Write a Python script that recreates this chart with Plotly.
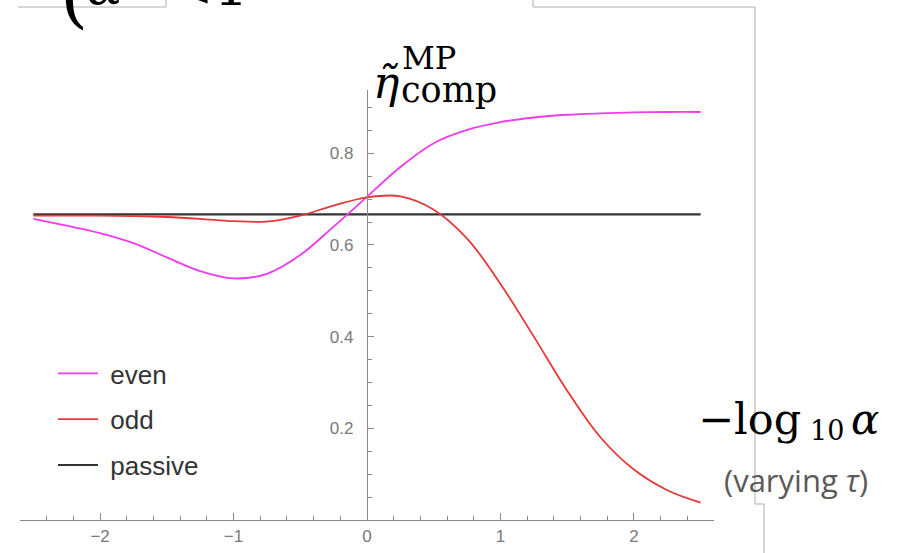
import numpy as np
import plotly.graph_objects as go

# -log10(alpha) sample points
x_vals = [-2.5, -2.25, -2.0, -1.75, -1.5, -1.25, -1.0, -0.75, -0.5, -0.25, 0.0,
          0.25, 0.5, 0.75, 1.0, 1.25, 1.5, 1.75, 2.0, 2.25, 2.5]

# compressed-MP efficiency for each protocol
eta_even = [0.657, 0.642, 0.626, 0.604, 0.573, 0.543, 0.527, 0.537, 0.578, 0.640, 0.705,
            0.770, 0.822, 0.851, 0.868, 0.878, 0.884, 0.887, 0.889, 0.890, 0.890]
eta_odd = [0.664, 0.664, 0.664, 0.663, 0.661, 0.657, 0.652, 0.651, 0.664, 0.686, 0.704,
           0.706, 0.677, 0.614, 0.515, 0.400, 0.282, 0.180, 0.110, 0.065, 0.038]
eta_passive = [2 / 3] * len(x_vals)

series_names = ["even", "odd", "passive"]
x_tick_vals = [-2, -1, 0, 1, 2]
y_tick_vals = [0.2, 0.4, 0.6, 0.8]

W, H = 897, 553
ML, MR, MT, MB = 20, 183, 90, 33
PW, PH = W - ML - MR, H - MT - MB


def px(x):
    return (x - ML) / PW


def py(y):
    return (H - MB - y) / PH


NB = "\u00a0"  # gap between legend line and label

fig = go.Figure()

fig.add_trace(go.Scatter(x=x_vals, y=eta_passive, mode="lines", name=NB + series_names[2],
                         line=dict(color="#333333", width=2.2), legendgroup="c",
                         legendrank=3))
fig.add_trace(go.Scatter(x=x_vals, y=eta_even, mode="lines", name=NB + series_names[0],
                         line=dict(color="#ee3bee", width=1.8, shape="spline", smoothing=1.0),
                         legendgroup="a", legendrank=1))
fig.add_trace(go.Scatter(x=x_vals, y=eta_odd, mode="lines", name=NB + series_names[1],
                         line=dict(color="#e63838", width=1.8, shape="spline", smoothing=1.0),
                         legendgroup="b", legendrank=2))

axis_col = "#8a8a8a"
tick_font = dict(family="Liberation Sans, Arial, sans-serif", size=17, color="#7a7a7a")

fig.update_xaxes(range=[-2.6, 2.6], showgrid=False, zeroline=False, showline=True,
                 linecolor=axis_col, linewidth=1.4, ticks="inside", ticklen=7,
                 tickwidth=1.3, tickcolor=axis_col, tickvals=x_tick_vals,
                 tickfont=tick_font,
                 minor=dict(tickvals=list(np.round(np.arange(-2.6, 2.61, 0.2), 2)),
                            ticks="inside", ticklen=4, tickwidth=1.2, tickcolor=axis_col))
fig.update_yaxes(range=[0, 0.938], showgrid=False, zeroline=False, showline=True,
                 linecolor=axis_col, linewidth=1.4, anchor="free", position=0.5,
                 ticks="inside", ticklen=6, tickwidth=1.3, tickcolor=axis_col,
                 tickvals=y_tick_vals, tickformat=".1f", tickfont=tick_font,
                 ticklabelstandoff=10,
                 minor=dict(tickvals=list(np.round(np.arange(0.05, 0.93, 0.05), 2)),
                            ticks="inside", ticklen=4, tickwidth=1.2, tickcolor=axis_col))

serif = "DejaVu Serif, serif"


def label(xp, yp, text, size, family=serif, color="black"):
    return dict(x=px(xp), y=py(yp), text=text, showarrow=False,
                font=dict(family=family, size=size, color=color),
                xanchor="left", yanchor="bottom", xref="paper", yref="paper")


annotations = [
    # vertical axis label
    label(371, 110, "<i>η̃</i>", 44),
    label(400, 79, "MP", 32),
    label(399, 112, "comp", 35),
    # horizontal axis label
    label(696, 446, "−log", 43),
    label(808, 448, "10", 27),
    label(849, 446, "<i>α</i>", 42),
    label(722, 503, "(varying <i>τ</i>)", 31, family="Open Sans, sans-serif", color="#5a5a5a"),
    # heading fragment along the top edge
    label(58, 38, "(", 72),
    label(84, 19, "<i>α</i>", 54),
    label(166, 21, "<", 54),
    label(212, 21, "1", 54),
]

frame_col = "#c8c8c8"
frame_segments = [
    (18, 7, 166, 7), (166, 0, 166, 7),
    (533, 0, 533, 7), (533, 7, 755, 7), (755, 7, 755, 504),
    (755, 504, 764, 504), (764, 504, 764, 553),
]
shapes = [dict(type="line", xref="paper", yref="paper", x0=px(a), y0=py(b), x1=px(c), y1=py(d),
               line=dict(color=frame_col, width=1.5), layer="below")
          for a, b, c, d in frame_segments]

fig.update_layout(
    width=W, height=H, margin=dict(l=ML, r=MR, t=MT, b=MB, autoexpand=False),
    paper_bgcolor="white", plot_bgcolor="white",
    showlegend=True,
    legend=dict(x=px(53), y=py(350), xanchor="left", yanchor="top",
                font=dict(family="Liberation Sans, Arial, sans-serif", size=26, color="#333333"),
                tracegroupgap=9, bgcolor="rgba(0,0,0,0)", itemwidth=40,
                traceorder="grouped"),
    annotations=annotations, shapes=shapes,
)

fig.write_html("out.html")
